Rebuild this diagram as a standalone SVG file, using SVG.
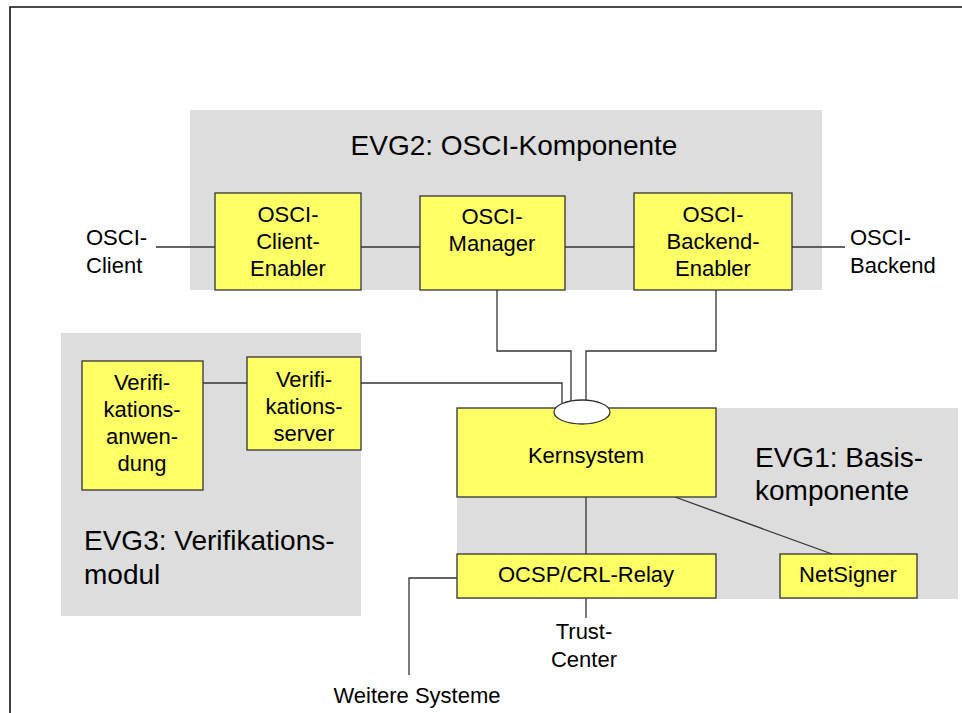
<svg xmlns="http://www.w3.org/2000/svg" width="962" height="713" viewBox="0 0 962 713">
<style>
.grp{fill:#dddddd;stroke:none}
.box{fill:#ffff66;stroke:#333333;stroke-width:1.3}
.t{font-family:"Liberation Sans",Arial,sans-serif;font-size:22px;fill:#000}
.c{text-anchor:middle}
.big{font-size:28px}
.ln{fill:none;stroke:#333333;stroke-width:1.3}
</style>
<rect x="0" y="0" width="962" height="713" fill="#ffffff"/>
<path d="M10 713 V7 H962" fill="none" stroke="#111" stroke-width="1.6"/>
<g id="evg2">
<rect class="grp" x="190" y="110" width="632" height="180"/>
<text class="t big c" x="514" y="155">EVG2: OSCI-Komponente</text>
</g>
<g id="evg3">
<rect class="grp" x="61" y="333" width="300" height="283"/>
<text class="t big" x="84" y="550">EVG3: Verifikations-</text>
<text class="t big" x="84" y="584">modul</text>
</g>
<g id="evg1">
<rect class="grp" x="457" y="408" width="501" height="191"/>
<text class="t big" x="755" y="467">EVG1: Basis-</text>
<text class="t big" x="755" y="500">komponente</text>
</g>
<g id="connectors">
<line class="ln" x1="156" y1="247" x2="215" y2="247"/>
<line class="ln" x1="361" y1="247" x2="420" y2="247"/>
<line class="ln" x1="565" y1="247" x2="634" y2="247"/>
<line class="ln" x1="792" y1="247" x2="845" y2="247"/>
<polyline class="ln" points="497,290 497,351 571,351 571,402"/>
<polyline class="ln" points="716,290 716,351 586,351 586,400"/>
<polyline class="ln" points="361,383 562,383 562,404"/>
<line class="ln" x1="203" y1="383" x2="247" y2="383"/>
<line class="ln" x1="586" y1="497" x2="586" y2="554"/>
<line class="ln" x1="675" y1="497" x2="832" y2="554"/>
<line class="ln" x1="586" y1="598" x2="586" y2="618"/>
<polyline class="ln" points="457,578 409,578 409,675"/>
</g>
<g id="osci-client">
<text class="t" x="86" y="245">OSCI-</text>
<text class="t" x="86" y="273">Client</text>
</g>
<g id="osci-backend">
<text class="t" x="850" y="245">OSCI-</text>
<text class="t" x="850" y="273">Backend</text>
</g>
<g id="client-enabler">
<rect class="box" x="215" y="193" width="146" height="97"/>
<text class="t c" x="288" y="222">OSCI-</text>
<text class="t c" x="288" y="249">Client-</text>
<text class="t c" x="288" y="276">Enabler</text>
</g>
<g id="manager">
<rect class="box" x="420" y="196" width="145" height="94"/>
<text class="t c" x="492" y="224">OSCI-</text>
<text class="t c" x="492" y="251">Manager</text>
</g>
<g id="backend-enabler">
<rect class="box" x="634" y="193" width="158" height="97"/>
<text class="t c" x="713" y="222">OSCI-</text>
<text class="t c" x="713" y="249">Backend-</text>
<text class="t c" x="713" y="276">Enabler</text>
</g>
<g id="verif-anwendung">
<rect class="box" x="82" y="361" width="121" height="129"/>
<text class="t c" x="142" y="390">Verifi-</text>
<text class="t c" x="142" y="417">kations-</text>
<text class="t c" x="142" y="444">anwen-</text>
<text class="t c" x="142" y="471">dung</text>
</g>
<g id="verif-server">
<rect class="box" x="247" y="357" width="114" height="93"/>
<text class="t c" x="304" y="387">Verifi-</text>
<text class="t c" x="304" y="414">kations-</text>
<text class="t c" x="304" y="441">server</text>
</g>
<g id="kernsystem">
<rect class="box" x="457" y="408" width="259" height="89"/>
<ellipse cx="582" cy="412" rx="28" ry="12" fill="#ffffff" stroke="#333333" stroke-width="1.3"/>
<text class="t c" x="586" y="463">Kernsystem</text>
</g>
<g id="ocsp-relay">
<rect class="box" x="457" y="554" width="259" height="44"/>
<text class="t c" x="586" y="582">OCSP/CRL-Relay</text>
</g>
<g id="netsigner">
<rect class="box" x="780" y="554" width="137" height="44"/>
<text class="t c" x="848" y="582">NetSigner</text>
</g>
<g id="trust-center">
<text class="t c" x="584" y="639">Trust-</text>
<text class="t c" x="584" y="667">Center</text>
</g>
<g id="weitere">
<text class="t c" x="417" y="703">Weitere Systeme</text>
</g>
</svg>
